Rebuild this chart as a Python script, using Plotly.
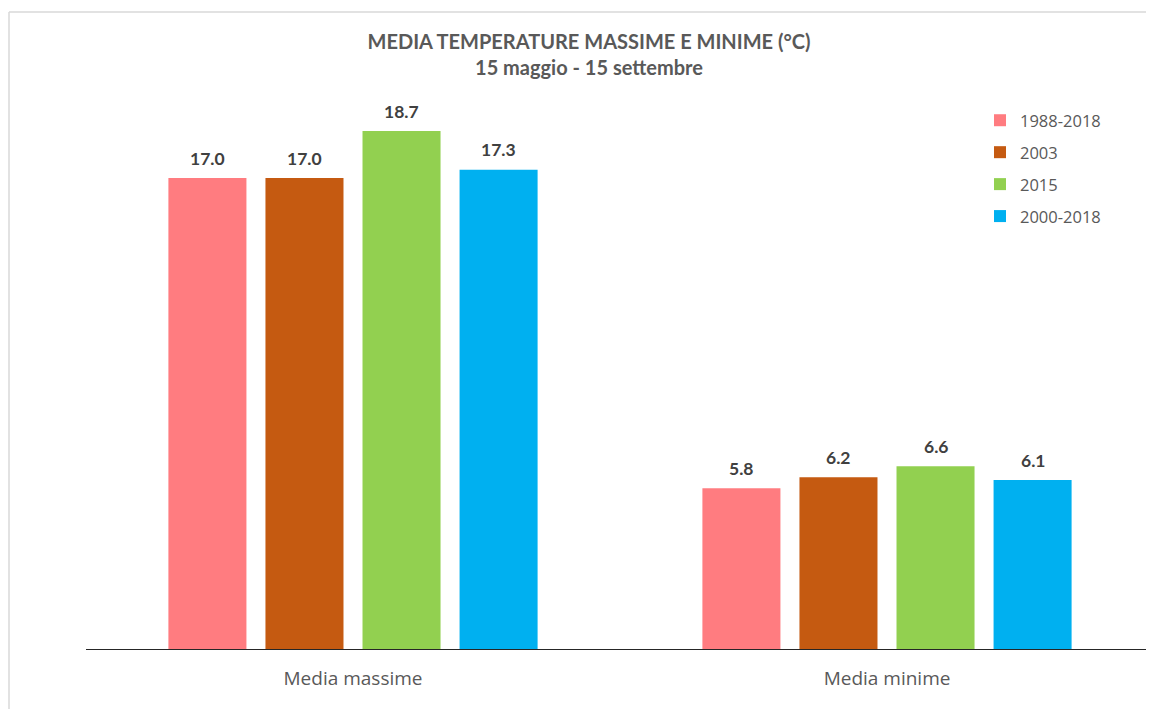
import plotly.graph_objects as go

categories = ["Media massime", "Media minime"]
series_names = ["1988-2018", "2003", "2015", "2000-2018"]
values_1988_2018 = [17.0, 5.8]
values_2003 = [17.0, 6.2]
values_2015 = [18.7, 6.6]
values_2000_2018 = [17.3, 6.1]
colors = ["#FF7C80", "#C55A11", "#92D050", "#00B0F0"]

all_values = [values_1988_2018, values_2003, values_2015, values_2000_2018]

# page body has an 8px margin; figure coordinates = screen - 8
W, H = 1138, 701
L, R, T, B = 78, 0, 87, 60
pw, ph = W - L - R, H - T - B
cat_px = 534.0  # pixel width of one category

fig = go.Figure()
for name, vals, col in zip(series_names, all_values, colors):
    fig.add_trace(go.Bar(
        x=categories, y=vals, name=name, marker_color=col, marker_line_width=0,
        legendgroup=name,
    ))

# value labels above the bars
slot = cat_px * (1 - 0.273) / 4
for i, vals in enumerate(all_values):
    for cat, v in zip(categories, vals):
        fig.add_annotation(
            x=cat, y=v, text=f"<b>{v:.1f}</b>", showarrow=False,
            xshift=(i - 1.5) * slot, yshift=20, yanchor="middle",
            font=dict(family="Lato", size=17.5, color="#404040"),
        )

fig.update_layout(
    width=W, height=H,
    margin=dict(l=L, r=R, t=T, b=B),
    paper_bgcolor="white", plot_bgcolor="white",
    barmode="group", bargap=0.273, bargroupgap=0.196,
    font=dict(family="Open Sans", color="#595959"),
    title=dict(
        text="<b>MEDIA TEMPERATURE MASSIME E MINIME (°C)</b><br><b>15 maggio - 15 settembre</b>",
        x=581 / W, xanchor="center", y=1 - 41 / H, yanchor="top",
        font=dict(family="Lato", size=20, color="#595959"),
    ),
    legend=dict(
        x=(972 - L) / pw, xanchor="left", y=(641 - 95) / ph, yanchor="top",
        font=dict(family="Open Sans", size=16.5, color="#595959"),
        tracegroupgap=7.5, itemwidth=30, bgcolor="rgba(0,0,0,0)",
    ),
    showlegend=True,
)
fig.update_xaxes(
    range=[-0.5, -0.5 + pw / cat_px],
    showline=True, linecolor="#262626", linewidth=1.3, ticks="",
    ticklabelstandoff=12,
    tickfont=dict(family="Open Sans", size=19, color="#595959"), showgrid=False,
)
fig.update_yaxes(range=[0, 20], visible=False, showgrid=False)

# outer chart border (top and left edges visible)
bx0, by1 = (1 - L) / pw, (641 - 4) / ph
fig.add_shape(type="line", xref="paper", yref="paper",
              x0=bx0, x1=(W + 50 - L) / pw, y0=by1, y1=by1,
              line=dict(color="#D9D9D9", width=1.5), layer="below")
fig.add_shape(type="line", xref="paper", yref="paper",
              x0=bx0, x1=bx0, y0=by1, y1=(641 - H - 50) / ph,
              line=dict(color="#D9D9D9", width=1.5), layer="below")

fig.write_html("out.html")
